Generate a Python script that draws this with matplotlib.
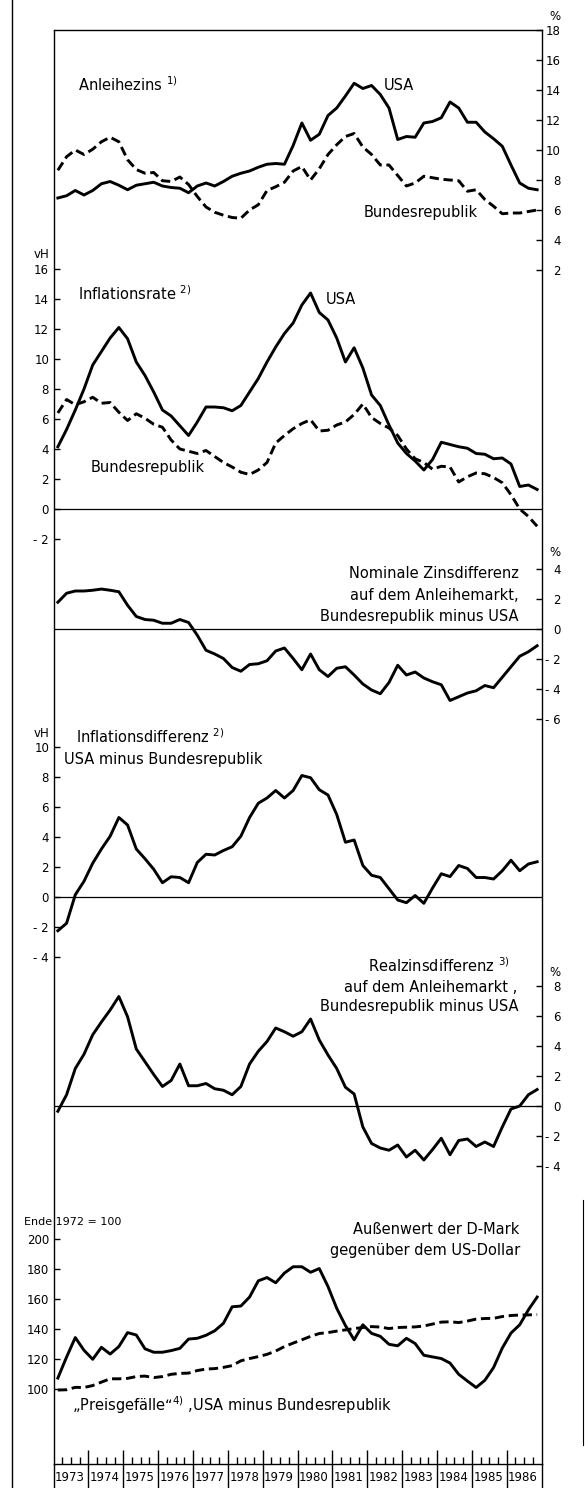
import matplotlib
matplotlib.use("Agg")
import matplotlib.pyplot as plt
from matplotlib.lines import Line2D
from matplotlib.ticker import FuncFormatter
from matplotlib import font_manager

# ---------------- data (quarterly, 1973 Q1 .. 1986 Q4) ----------------
years = list(range(1973, 1987))
n_quarters = 56
t = [1973.125 + 0.25 * i for i in range(n_quarters)]

bond_usa = [6.8, 6.95, 7.3, 7.0, 7.3, 7.75, 7.9, 7.65, 7.35, 7.65, 7.75, 7.85, 7.6, 7.5,
            7.45, 7.15, 7.6, 7.8, 7.6, 7.9, 8.25, 8.45, 8.6, 8.85, 9.05, 9.1, 9.05, 10.3,
            11.8, 10.65, 11.05, 12.3, 12.8, 13.6, 14.45, 14.1, 14.3, 13.7, 12.8, 10.7, 10.9,
            10.85, 11.8, 11.9, 12.15, 13.2, 12.8, 11.85, 11.85, 11.2, 10.75, 10.25, 9.0,
            7.8, 7.45, 7.35]
bond_brd = [8.65, 9.55, 10.0, 9.7, 10.05, 10.55, 10.85, 10.55, 9.35, 8.7, 8.45, 8.5, 7.95,
            7.9, 8.2, 7.7, 6.9, 6.2, 5.85, 5.65, 5.5, 5.45, 6.0, 6.35, 7.3, 7.55, 7.85, 8.6,
            8.9, 8.0, 8.75, 9.7, 10.35, 10.9, 11.1, 10.2, 9.7, 9.0, 9.0, 8.3, 7.6, 7.8,
            8.25, 8.15, 8.05, 8.0, 7.95, 7.25, 7.35, 6.7, 6.25, 5.75, 5.8, 5.8, 5.9, 6.0]
infl_usa = [4.15, 5.3, 6.6, 8.0, 9.6, 10.5, 11.4, 12.1, 11.35, 9.8, 8.9, 7.8, 6.6, 6.2,
            5.55, 4.9, 5.8, 6.8, 6.8, 6.75, 6.55, 6.9, 7.8, 8.7, 9.8, 10.8, 11.7, 12.4,
            13.6, 14.4, 13.1, 12.6, 11.4, 9.8, 10.75, 9.4, 7.6, 6.9, 5.6, 4.4, 3.7, 3.2,
            2.6, 3.3, 4.45, 4.3, 4.15, 4.05, 3.7, 3.65, 3.35, 3.4, 3.0, 1.5, 1.6, 1.3]
infl_brd = [6.4, 7.3, 6.95, 7.15, 7.45, 7.05, 7.1, 6.45, 5.9, 6.35, 6.05, 5.65, 5.45, 4.6,
            4.0, 3.85, 3.7, 3.9, 3.5, 3.1, 2.8, 2.45, 2.3, 2.6, 3.1, 4.4, 4.9, 5.35, 5.7,
            5.95, 5.2, 5.25, 5.6, 5.8, 6.3, 7.0, 6.1, 5.7, 5.4, 4.9, 4.0, 3.35, 3.1, 2.65,
            2.85, 2.8, 1.8, 2.15, 2.4, 2.35, 2.1, 1.75, 0.95, 0.0, -0.5, -1.15]
nominal_diff = [1.75, 2.35, 2.5, 2.5, 2.55, 2.63, 2.55, 2.45, 1.55, 0.8, 0.6, 0.55, 0.35,
                0.35, 0.6, 0.4, -0.45, -1.45, -1.7, -2.0, -2.6, -2.85, -2.4, -2.35, -2.15,
                -1.5, -1.3, -2.0, -2.75, -1.7, -2.75, -3.2, -2.65, -2.55, -3.1, -3.7, -4.1,
                -4.35, -3.6, -2.45, -3.1, -2.9, -3.3, -3.55, -3.75, -4.8, -4.55, -4.3, -4.15,
                -3.8, -3.95, -3.25, -2.55, -1.85, -1.55, -1.15]
infl_diff = [-2.25, -1.75, 0.15, 1.05, 2.25, 3.2, 4.05, 5.3, 4.8, 3.2, 2.55, 1.85, 0.95,
             1.35, 1.3, 0.95, 2.3, 2.85, 2.8, 3.1, 3.35, 4.05, 5.3, 6.25, 6.6, 7.1, 6.6,
             7.1, 8.1, 7.95, 7.15, 6.8, 5.5, 3.65, 3.8, 2.1, 1.45, 1.3, 0.55, -0.2, -0.38,
             0.1, -0.42, 0.6, 1.55, 1.36, 2.1, 1.9, 1.3, 1.3, 1.2, 1.75, 2.45, 1.75, 2.2, 2.35]
real_diff = [-0.35, 0.75, 2.5, 3.45, 4.75, 5.6, 6.4, 7.3, 5.95, 3.8, 2.95, 2.1, 1.3, 1.7,
             2.8, 1.35, 1.35, 1.5, 1.15, 1.05, 0.75, 1.3, 2.8, 3.65, 4.3, 5.2, 4.95, 4.65,
             4.95, 5.8, 4.4, 3.4, 2.5, 1.25, 0.8, -1.4, -2.5, -2.8, -2.95, -2.6, -3.4, -2.95,
             -3.6, -2.9, -2.15, -3.25, -2.3, -2.2, -2.7, -2.4, -2.7, -1.4, -0.2, 0.0, 0.75, 1.1]
dm_usd = [107.5, 121.5, 134.5, 126, 120, 128, 123.5, 128.5, 137.8, 136.2, 127, 124.7, 124.7,
          125.8, 127.3, 133.5, 134, 136, 139, 144, 155, 155.5, 161.5, 172.3, 174.5, 171,
          177.5, 181.7, 181.7, 178, 180.5, 168.5, 154, 142.5, 133, 143, 137.3, 135.3, 130,
          129, 134, 130.5, 122.7, 121.6, 120.5, 117.5, 110, 105.5, 101.2, 106, 114.5, 127.5,
          137.5, 143, 153, 161.5]
price_gap = [99.5, 99.7, 101.3, 101.2, 102.5, 104.8, 107, 107, 107.3, 108.5, 108.8, 107.8,
             108.5, 110, 110.6, 110.8, 112.5, 113.5, 113.8, 114.6, 115.8, 119, 120.5, 121.8,
             123.3, 125.5, 128.5, 130.8, 133, 135.3, 137.2, 137.8, 138.8, 139.6, 140.5, 141.2,
             141.8, 141.5, 140.5, 141.2, 141.4, 141.6, 142.2, 143.5, 144.8, 145, 144.5, 145.5,
             146.8, 147.2, 147.3, 148.5, 149.2, 149.5, 149.6, 149.8]

# ---------------- fonts ----------------
available = {f.name for f in font_manager.fontManager.ttflist}
NARROW = "Liberation Sans Narrow" if "Liberation Sans Narrow" in available else "DejaVu Sans"
TXT = "DejaVu Sans"
plt.rcParams["font.family"] = [TXT]
plt.rcParams["mathtext.fontset"] = "dejavusans"
TS = 10.5          # annotation font size
KS = 10.0 if NARROW != "DejaVu Sans" else 8.5   # tick label size

W, H = 585, 1488
XL, XR = 53.5, 541.5

fig = plt.figure(figsize=(W / 100, H / 100), dpi=100)
fig.patch.set_facecolor("white")


def rect(x0, x1, ytop, ybot):
    return [x0 / W, 1 - ybot / H, (x1 - x0) / W, (ybot - ytop) / H]


def ftext(x, y, s, ha="left", size=TS, family=TXT, **kw):
    fig.text(x / W, 1 - y / H, s, ha=ha, va="center", fontsize=size,
             family=family, color="black", **kw)


def fmt(v, pos=None):
    v = int(round(v))
    return f"- {abs(v)}" if v < 0 else f"{v}"


# ---------------- outer frame with time axis ----------------
frame = fig.add_axes(rect(XL, XR, 30, 1464))
frame.set_xlim(1973, 1987)
frame.set_ylim(0, 1)
frame.set_yticks([])
frame.set_xticks(years[1:])
frame.set_xticks([y + q / 4 for y in years for q in (1, 2, 3)], minor=True)
frame.tick_params(axis="x", which="major", direction="in", length=10, width=1.0,
                  labelbottom=False)
frame.tick_params(axis="x", which="minor", direction="in", length=5, width=1.0)
for s in frame.spines.values():
    s.set_linewidth(1.0)

lab = fig.add_axes(rect(XL, XR, 1464, 1488))
lab.set_xlim(1973, 1987)
lab.set_ylim(0, 1)
lab.patch.set_visible(False)
lab.set_xticks([])
lab.set_yticks([])
for side in ("top", "bottom"):
    lab.spines[side].set_visible(False)
for side in ("left", "right"):
    lab.spines[side].set_linewidth(1.0)
lab.vlines(years[1:], 0, 1, color="black", lw=1.0)
for y in years:
    lab.text(y + 0.04, 0.45, str(y), ha="left", va="center", fontsize=KS,
             family=NARROW)


# ---------------- panels ----------------
def panel(ytop, ybot, vtop, vbot, side, ticks, zero=False):
    ax = fig.add_axes(rect(XL, XR, ytop, ybot))
    ax.set_xlim(1973, 1987)
    ax.set_ylim(vbot, vtop)
    ax.patch.set_visible(False)
    for s in ax.spines.values():
        s.set_visible(False)
    ax.set_xticks([])
    ax.set_yticks(ticks)
    ax.yaxis.set_major_formatter(FuncFormatter(fmt))
    if side == "right":
        ax.yaxis.tick_right()
        ax.tick_params(axis="y", direction="in", length=4.5, width=1.0, pad=14,
                       labelsize=KS)
        for tl in ax.get_yticklabels():
            tl.set_horizontalalignment("right")
            tl.set_family(NARROW)
    else:
        ax.yaxis.tick_left()
        ax.tick_params(axis="y", direction="in", length=4.5, width=1.0, pad=3.2,
                       labelsize=KS)
        for tl in ax.get_yticklabels():
            tl.set_family(NARROW)
    if zero:
        ax.axhline(0, color="black", lw=0.9)
    return ax


SOLID = dict(color="black", lw=2.1, solid_joinstyle="round", clip_on=False)
DASHED = dict(color="black", lw=2.1, dashes=(3.2, 1.6), clip_on=False)

# 1 Anleihezins (right axis)
ax1 = panel(30, 270, 18, 2, "right", list(range(2, 19, 2)))
ax1.plot(t, bond_brd, **DASHED)
ax1.plot(t, bond_usa, **SOLID)

# 2 Inflationsrate (left axis)
ax2 = panel(269, 539, 16, -2, "left", list(range(-2, 17, 2)), zero=True)
ax2.plot(t, infl_brd, **DASHED)
ax2.plot(t, infl_usa, **SOLID)

# 3 Nominale Zinsdifferenz (right axis)
ax3 = panel(568.5, 718.5, 4, -6, "right", list(range(-6, 5, 2)), zero=True)
ax3.plot(t, nominal_diff, **SOLID)

# 4 Inflationsdifferenz (left axis)
ax4 = panel(747, 957, 10, -4, "left", list(range(-4, 11, 2)), zero=True)
ax4.plot(t, infl_diff, **SOLID)

# 5 Realzinsdifferenz (right axis)
ax5 = panel(986, 1166, 8, -4, "right", list(range(-4, 9, 2)), zero=True)
ax5.plot(t, real_diff, **SOLID)

# 6 Aussenwert der D-Mark (left axis)
ax6 = panel(1239.3, 1389.3, 200, 100, "left", list(range(100, 201, 20)))
ax6.plot(t, price_gap, **DASHED)
ax6.plot(t, dm_usd, **SOLID)

# ---------------- texts ----------------
ftext(561, 16, "%", ha="right", size=KS, family=NARROW)
ftext(78, 85, "Anleihezins $^{1)}$")
ftext(384, 85, "USA")
ftext(364, 212, "Bundesrepublik")

ftext(49, 254, "vH", ha="right", size=KS, family=NARROW)
ftext(78, 294, "Inflationsrate $^{2)}$")
ftext(326, 300, "USA")
ftext(91, 468, "Bundesrepublik")

ftext(561, 553, "%", ha="right", size=KS, family=NARROW)
ftext(519, 574, "Nominale Zinsdifferenz", ha="right")
ftext(519, 595, "auf dem Anleihemarkt,", ha="right")
ftext(519, 616, "Bundesrepublik minus USA", ha="right")

ftext(49, 733, "vH", ha="right", size=KS, family=NARROW)
ftext(76, 737, "Inflationsdifferenz $^{2)}$")
ftext(64, 759, "USA minus Bundesrepublik")

ftext(561, 973, "%", ha="right", size=KS, family=NARROW)
ftext(510, 966, "Realzinsdifferenz $^{3)}$", ha="right")
ftext(517, 987, "auf dem Anleihemarkt ,", ha="right")
ftext(519, 1007, "Bundesrepublik minus USA", ha="right")

ftext(24, 1222, "Ende 1972 = 100", size=KS - 0.5, family=NARROW)
ftext(519, 1229, "Außenwert der D-Mark", ha="right")
ftext(520, 1251, "gegenüber dem US-Dollar", ha="right")
ftext(72, 1405, "„Preisgefälle“$^{4)}$ ,USA minus Bundesrepublik")

# page border lines
fig.add_artist(Line2D([12 / W, 12 / W], [0, 1], color="black", lw=1.0))
fig.add_artist(Line2D([583 / W, 583 / W], [1 - 1445 / H, 1 - 1200 / H],
                      color="black", lw=0.8))

fig.savefig("out.png", dpi=100, facecolor="white")
